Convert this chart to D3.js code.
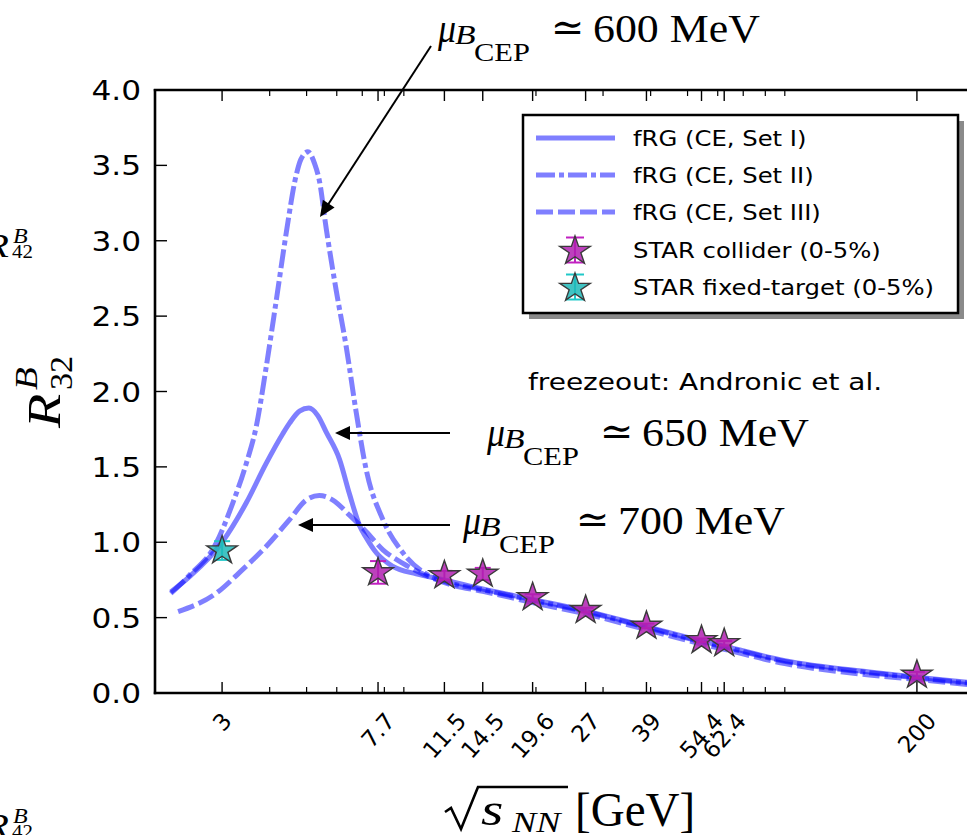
<!DOCTYPE html>
<html><head><meta charset="utf-8">
<script src="https://cdn.jsdelivr.net/npm/d3@7"></script>
<style>body{margin:0;background:#fff;overflow:hidden}</style>
</head><body>
<svg id="c" width="967" height="835"></svg>
<script>
// ---------------- data ----------------
const setI_x   = [2.2, 2.46, 3.0, 3.47, 3.91, 4.33, 4.51, 4.79, 5.07, 5.35, 5.63, 6.10, 6.48, 6.89, 7.17, 7.62, 8.42, 9.70, 11.5, 14.5, 19.6, 27, 39, 54.4, 62.4, 90, 150, 200, 300];
const setI_y   = [0.67, 0.77, 1.00, 1.26, 1.52, 1.72, 1.79, 1.87, 1.89, 1.84, 1.73, 1.55, 1.32, 1.11, 1.03, 0.93, 0.84, 0.79, 0.75, 0.69, 0.62, 0.545, 0.44, 0.345, 0.31, 0.215, 0.14, 0.105, 0.06];

const setII_x  = [2.2, 2.46, 2.89, 3.2, 3.47, 3.69, 3.91, 4.16, 4.42, 4.69, 4.83, 5.04, 5.25, 5.40, 5.63, 5.98, 6.35, 6.75, 7.17, 7.93, 8.95, 10.3, 11.5, 14.5, 19.6, 27, 39, 54.4, 62.4, 90, 150, 200, 300];
const setII_y  = [0.66, 0.78, 0.99, 1.26, 1.52, 1.77, 2.15, 2.60, 3.05, 3.43, 3.54, 3.59, 3.51, 3.40, 3.08, 2.67, 2.30, 1.86, 1.48, 1.15, 0.93, 0.79, 0.74, 0.685, 0.615, 0.54, 0.435, 0.34, 0.305, 0.21, 0.135, 0.10, 0.055];

const setIII_x = [2.3, 2.89, 3.40, 3.91, 4.51, 4.99, 5.40, 5.86, 6.48, 7.17, 7.93, 8.95, 10.3, 11.9, 14.5, 19.6, 27, 39, 54.4, 62.4, 90, 150, 200, 300];
const setIII_y = [0.54, 0.66, 0.82, 0.97, 1.15, 1.28, 1.31, 1.28, 1.18, 1.07, 0.95, 0.86, 0.78, 0.72, 0.675, 0.60, 0.525, 0.42, 0.325, 0.29, 0.195, 0.12, 0.09, 0.045];

const collider_x   = [7.7, 11.5, 14.5, 19.6, 27, 39, 54.4, 62.4, 200];
const collider_y   = [0.80, 0.78, 0.79, 0.635, 0.55, 0.445, 0.35, 0.33, 0.12];
const collider_err = [0.075, 0.03, 0.04, 0.02, 0.015, 0.015, 0.012, 0.015, 0.02];

const fixed_x   = [3];
const fixed_y   = [0.945];
const fixed_err = [0.062];

const xTickValues = [3, 7.7, 11.5, 14.5, 19.6, 27, 39, 54.4, 62.4, 200];
const xTickLabels = ["3", "7.7", "11.5", "14.5", "19.6", "27", "39", "54.4", "62.4", "200"];
const xMinorTicks = [4, 5, 6, 7, 8, 9, 20, 30, 40, 50, 60, 70, 80, 90, 300];
const yTickValues = [0, 0.5, 1.0, 1.5, 2.0, 2.5, 3.0, 3.5, 4.0];
const yTickLabels = ["0.0", "0.5", "1.0", "1.5", "2.0", "2.5", "3.0", "3.5", "4.0"];

const legendLabels = ["fRG (CE, Set I)", "fRG (CE, Set II)", "fRG (CE, Set III)", "STAR collider (0-5%)", "STAR fixed-target (0-5%)"];
const annotValues = ["600 MeV", "650 MeV", "700 MeV"];

// ---------------- layout ----------------
const svg = d3.select('#c');
const L = 155, R = 984, T = 90, B = 693;
const x = d3.scaleLog().domain([2, 300]).range([L, R]);
const y = d3.scaleLinear().domain([0, 4]).range([B, T]);

const SANS = "'DejaVu Sans', sans-serif";
const SERIF = "'Liberation Serif', 'DejaVu Serif', serif";

function txt(parent, str, px, py, o = {}) {
  return parent.append('text')
    .attr('transform', `translate(${px},${py}) scale(${o.sx || 1},1)`)
    .attr('font-family', o.family || SANS)
    .attr('font-size', o.size || 20)
    .attr('font-style', o.style || 'normal')
    .attr('text-anchor', o.anchor || 'start')
    .attr('fill', o.fill || '#000')
    .text(str);
}

svg.append('rect').attr('width', 967).attr('height', 835).attr('fill', '#fff');

const defs = svg.append('defs');
defs.append('clipPath').attr('id', 'plotclip').append('rect')
  .attr('x', L).attr('y', T).attr('width', R - L).attr('height', B - T);

// ---------------- curves ----------------
const line = d3.line().x(d => x(d[0])).y(d => y(d[1])).curve(d3.curveMonotoneX);
const series = [
  {xs: setI_x,   ys: setI_y,   dash: null},
  {xs: setII_x,  ys: setII_y,  dash: '19,4,5,4'},
  {xs: setIII_x, ys: setIII_y, dash: '17,5'}
];
const plot = svg.append('g').attr('clip-path', 'url(#plotclip)');
series.forEach(s => {
  plot.append('path')
    .attr('d', line(d3.zip(s.xs, s.ys)))
    .attr('fill', 'none')
    .attr('stroke', '#0000ff')
    .attr('stroke-opacity', 0.5)
    .attr('stroke-width', 5)
    .attr('stroke-dasharray', s.dash);
});

// ---------------- stars ----------------
function starPath(Rr, sx) {
  const pts = [];
  for (let i = 0; i < 10; i++) {
    const a = (-90 + i * 36) * Math.PI / 180;
    const r = i % 2 === 0 ? Rr : Rr * 0.382;
    pts.push([r * Math.cos(a) * sx, r * Math.sin(a)]);
  }
  return 'M' + pts.map(p => p[0].toFixed(2) + ',' + p[1].toFixed(2)).join('L') + 'Z';
}
function drawStars(g, xs, ys, errs, fill, ecol) {
  xs.forEach((xv, i) => {
    const cx = x(xv), cy = y(ys[i]);
    const y1 = y(ys[i] + errs[i]), y2 = y(ys[i] - errs[i]);
    g.append('line').attr('x1', cx).attr('x2', cx).attr('y1', y1).attr('y2', y2)
      .attr('stroke', ecol).attr('stroke-width', 2);
    [y1, y2].forEach(yy => g.append('line').attr('x1', cx - 8).attr('x2', cx + 8)
      .attr('y1', yy).attr('y2', yy).attr('stroke', ecol).attr('stroke-width', 2));
  });
  xs.forEach((xv, i) => {
    g.append('path').attr('d', starPath(15, 1.07))
      .attr('transform', `translate(${x(xv)},${y(ys[i])})`)
      .attr('fill', fill).attr('fill-opacity', 0.85)
      .attr('stroke', '#3a3a3a').attr('stroke-width', 1.4).attr('stroke-linejoin', 'miter');
  });
}
const starG = svg.append('g').attr('clip-path', 'url(#plotclip)');
drawStars(starG, collider_x, collider_y, collider_err, '#b020b0', '#c020c0');
drawStars(starG, fixed_x, fixed_y, fixed_err, '#20b8b8', '#20c8c8');

// ---------------- axes ----------------
const ax = svg.append('g');
ax.append('line').attr('x1', L).attr('x2', L).attr('y1', T - 1).attr('y2', B + 1.2).attr('stroke', '#000').attr('stroke-width', 2.6);
ax.append('line').attr('x1', L - 1.2).attr('x2', 967).attr('y1', B).attr('y2', B).attr('stroke', '#000').attr('stroke-width', 2.6);
ax.append('line').attr('x1', L - 1.2).attr('x2', 967).attr('y1', T).attr('y2', T).attr('stroke', '#000').attr('stroke-width', 2.6);

xTickValues.forEach(v => {
  ax.append('line').attr('x1', x(v)).attr('x2', x(v)).attr('y1', B).attr('y2', B - 11).attr('stroke', '#000').attr('stroke-width', 1.4);
  ax.append('line').attr('x1', x(v)).attr('x2', x(v)).attr('y1', T).attr('y2', T + 11).attr('stroke', '#000').attr('stroke-width', 1.4);
});
xMinorTicks.forEach(v => {
  ax.append('line').attr('x1', x(v)).attr('x2', x(v)).attr('y1', B).attr('y2', B - 6).attr('stroke', '#000').attr('stroke-width', 1.2);
  ax.append('line').attr('x1', x(v)).attr('x2', x(v)).attr('y1', T).attr('y2', T + 6).attr('stroke', '#000').attr('stroke-width', 1.2);
});
yTickValues.forEach(v => {
  ax.append('line').attr('x1', L).attr('x2', L + 12).attr('y1', y(v)).attr('y2', y(v)).attr('stroke', '#000').attr('stroke-width', 1.4);
});
yTickValues.forEach((v, i) => {
  txt(ax, yTickLabels[i], 141, y(v) + 10, {size: 26, sx: 1.2, anchor: 'end'});
});
const ANG = 48, XFS = 23;
xTickValues.forEach((v, i) => {
  const t = ax.append('text')
    .attr('font-family', SANS).attr('font-size', XFS)
    .attr('text-anchor', 'middle').attr('dominant-baseline', 'central')
    .text(xTickLabels[i]);
  const len = t.node().getComputedTextLength();
  const hgt = 0.73 * XFS;
  const a = ANG * Math.PI / 180;
  const vext = len * Math.sin(a) + hgt * Math.cos(a);
  t.attr('transform', `translate(${x(v)},${711 + vext / 2}) rotate(${-ANG})`);
});

// axis labels
const xl = svg.append('g');
xl.append('path').attr('d', 'M445,812 L451,808 L461,829 L478,787 L568,787')
  .attr('fill', 'none').attr('stroke', '#000').attr('stroke-width', 2.6).attr('stroke-linejoin', 'miter');
txt(xl, 's', 481, 825, {family: SERIF, style: 'italic', size: 46, sx: 1.25});
txt(xl, 'NN', 512, 832, {family: SERIF, style: 'italic', size: 29, sx: 1.25});
txt(xl, '[GeV]', 575, 826, {family: SERIF, size: 48, sx: 0.98});

const yl = svg.append('g').attr('transform', 'translate(60,428) rotate(-90)');
txt(yl, 'R', 0, 0, {family: SERIF, style: 'italic', size: 46, sx: 1.22});
txt(yl, 'B', 38, -23, {family: SERIF, style: 'italic', size: 31, sx: 1.2});
txt(yl, '32', 38, 12, {family: SERIF, size: 31, sx: 1.1});

// labels of neighbouring panels, cut at the left edge
[257, 837].forEach(by => {
  txt(svg, 'R', 9, by, {family: SERIF, style: 'italic', size: 34, sx: 1.2, anchor: 'end'});
  txt(svg, 'B', 13, by - 14, {family: SERIF, style: 'italic', size: 20, sx: 1.2});
  txt(svg, '42', 12, by + 1, {family: SERIF, size: 19, sx: 1.1});
});

// ---------------- annotations ----------------
function arrow(x1, y1, x2, y2, hl = 15, hw = 7) {
  const dx = x2 - x1, dy = y2 - y1, d = Math.hypot(dx, dy);
  const ux = dx / d, uy = dy / d;
  const bx = x2 - ux * hl, by = y2 - uy * hl;
  svg.append('line').attr('x1', x1).attr('y1', y1).attr('x2', bx + ux * 2).attr('y2', by + uy * 2)
    .attr('stroke', '#000').attr('stroke-width', 2);
  svg.append('path').attr('d', `M${x2},${y2}L${bx - uy * hw},${by + ux * hw}L${bx + uy * hw},${by - ux * hw}Z`)
    .attr('fill', '#000');
}
arrow(431, 46, 320, 217, 16, 7);
arrow(450, 433, 335, 433, 15, 7);
arrow(450, 525, 298, 525, 15, 7);

function muLabel(x0, base, val) {
  const g = svg.append('g');
  txt(g, 'μ', x0, base, {family: SERIF, style: 'italic', size: 40, sx: 0.9});
  txt(g, 'B', x0 + 17, base + 2, {family: SERIF, style: 'italic', size: 28, sx: 1.2});
  txt(g, 'CEP', x0 + 36, base + 19, {family: SERIF, size: 25, sx: 1.22});
  txt(g, '≃', x0 + 113, base - 1, {family: SERIF, size: 40, sx: 1.0});
  txt(g, val, x0 + 155, base, {family: SERIF, size: 41, sx: 1.07});
}
muLabel(438, 42, annotValues[0]);
muLabel(487, 446, annotValues[1]);
muLabel(463, 534, annotValues[2]);

txt(svg, 'freezeout: Andronic et al.', 528, 390, {size: 23.5, sx: 1.19});

// ---------------- legend ----------------
const lg = svg.append('g');
lg.append('rect').attr('x', 529).attr('y', 121).attr('width', 435).attr('height', 198).attr('fill', '#8a8a8a');
lg.append('rect').attr('x', 523).attr('y', 115).attr('width', 435).attr('height', 198)
  .attr('fill', '#fff').attr('stroke', '#000').attr('stroke-width', 2.5);
const rows = [138, 175, 212, 250, 287];
series.forEach((s, i) => {
  lg.append('line').attr('x1', 536).attr('x2', 615).attr('y1', rows[i]).attr('y2', rows[i])
    .attr('stroke', '#0000ff').attr('stroke-opacity', 0.5).attr('stroke-width', 5)
    .attr('stroke-dasharray', s.dash);
});
[[rows[3], '#b020b0', '#c020c0'], [rows[4], '#20b8b8', '#20c8c8']].forEach(([ry, f, e]) => {
  lg.append('line').attr('x1', 575).attr('x2', 575).attr('y1', ry - 12.5).attr('y2', ry + 12.5).attr('stroke', e).attr('stroke-width', 2);
  [ry - 12.5, ry + 12.5].forEach(yy => lg.append('line').attr('x1', 566).attr('x2', 584).attr('y1', yy).attr('y2', yy).attr('stroke', e).attr('stroke-width', 2));
  lg.append('path').attr('d', starPath(15, 1.07)).attr('transform', `translate(575,${ry + 1})`)
    .attr('fill', f).attr('fill-opacity', 0.85).attr('stroke', '#3a3a3a').attr('stroke-width', 1.4);
});
legendLabels.forEach((s, i) => txt(lg, s, 633, rows[i] + 8, {size: 20.6, sx: 1.18}));
</script>
</body></html>
